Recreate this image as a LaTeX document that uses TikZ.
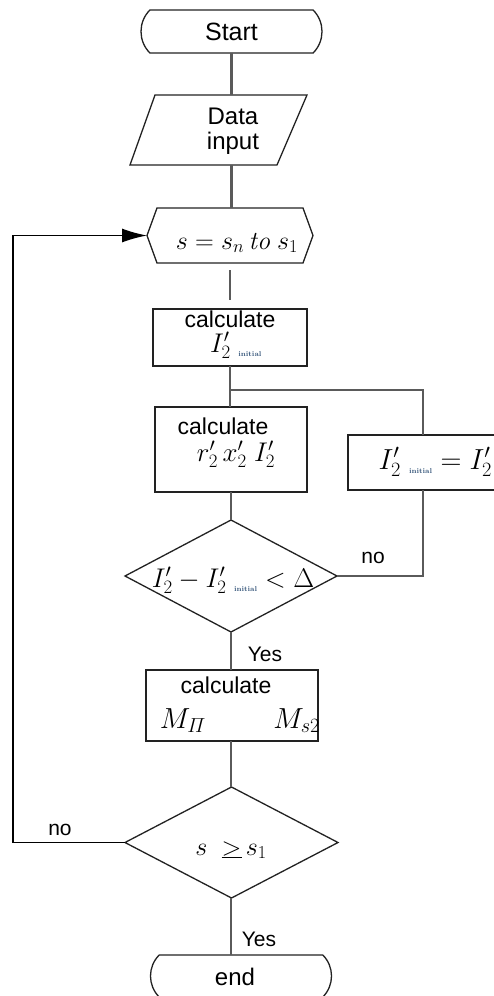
\RequirePackage{fix-cm}
\documentclass[tikz,border=0pt]{standalone}
\usepackage{fontspec}
\setsansfont{Liberation Sans}
\usetikzlibrary{arrows.meta,shapes.misc,shapes.geometric}
\definecolor{conn}{HTML}{5A5A5A}
\definecolor{edge}{HTML}{222222}
\definecolor{subc}{HTML}{35557A}
\newcommand{\ini}{\mbox{\color{subc}\fontsize{7}{7}\selectfont\bfseries initial}}
\newcommand{\fs}[1]{\fontsize{#1}{#1}\selectfont}
\begin{document}
\begin{tikzpicture}[x=1pt,y=-1pt,
  every node/.style={inner sep=0pt, outer sep=0pt},
  term/.style={draw=edge, line width=1.3pt, rounded rectangle, rounded rectangle arc length=90},
  pbox/.style={draw=edge, line width=1.8pt, rectangle},
  shp/.style={draw=edge, line width=1.3pt},
  ghost/.style={rectangle, draw=none},
  conn/.style={draw=conn, line width=2.6pt},
  thinconn/.style={draw=conn, line width=1.6pt},
  loopline/.style={draw=black, line width=1.4pt},
  lbl/.style={font=\sffamily\fs{21}},
  sflbl/.style={font=\sffamily\fs{23}, anchor=base}
]
\useasboundingbox[fill=white] (0,0) rectangle (493,996);

% Start
\node[term, minimum width=181, minimum height=43, font=\sffamily\fs{25}] (start) at (231.5,31.5) {Start};

% Data input (parallelogram)
\node[ghost, minimum width=177, minimum height=70] (datashape) at (218.5,130) {};
\draw[shp] (datashape.south west) -- ([xshift=25pt]datashape.north west) -- (datashape.north east) -- ([xshift=-30pt]datashape.south east) -- cycle;
\node[font=\sffamily\fs{24}, align=center] (data) at (233,131) {Data\\[1pt]input};

% Hexagon loop
\node[ghost, minimum width=166, minimum height=55] (hex) at (230,235.5) {};
\draw[shp] (hex.west) -- ([xshift=10pt]hex.north west) -- ([xshift=-10pt]hex.north east) -- (hex.east) -- ([xshift=-10pt]hex.south east) -- ([xshift=10pt]hex.south west) -- cycle;
\node[font=\fs{26}, anchor=base] (hext) at (237,249) {$s = s_{n}\,\mathit{to}\; s_{1}$};

% calculate I'2 initial
\node[pbox, minimum width=154, minimum height=57] (calc1) at (230,337.5) {};
\node[sflbl] (calc1a) at (230,327) {calculate};
\node[font=\fs{27}, anchor=base] (calc1b) at (236,352) {$I'_{2}\;{}_{\ini}$};

% calculate r' x' I'
\node[pbox, minimum width=152, minimum height=85] (calc2) at (231,449.5) {};
\node[sflbl] (calc2a) at (223,434) {calculate};
\node[font=\fs{27}, anchor=base] (calc2b) at (236,461) {$r'_{2}\,x'_{2}\;I'_{2}$};

% I'2 initial = I'2
\node[pbox, minimum width=150, minimum height=55] (b3) at (423,462.5) {};
\node[font=\fs{29}, anchor=base east] (b3t) at (492,469) {$I'_{2}\;{}_{\ini} = I'_{2}$};

% Diamond 1
\node[ghost, minimum width=212, minimum height=112] (d1) at (231,576) {};
\draw[shp] (d1.west) -- (d1.north) -- (d1.east) -- (d1.south) -- cycle;
\node[font=\fs{27}, anchor=base] (d1t) at (233,587) {$I'_{2} - I'_{2}\;{}_{\ini} < \Delta$};

% calculate M
\node[pbox, minimum width=172, minimum height=71] (calc3) at (232,705.5) {};
\node[sflbl] (calc3a) at (226,693) {calculate};
\node[font=\fs{29}, anchor=base] (calc3b) at (183,728) {$M_{\mathnormal{\Pi}}$};
\node[font=\fs{29}, anchor=base east] (calc3c) at (320,728) {$M_{s2}$};

% Diamond 2
\node[ghost, minimum width=213, minimum height=111] (d2) at (231.5,842.5) {};
\draw[shp] (d2.west) -- (d2.north) -- (d2.east) -- (d2.south) -- cycle;
\node[font=\fs{26}, anchor=base] (d2t) at (231,855) {$s\;\;\underline{>}\,s_{1}$};

% End
\node[term, minimum width=181, minimum height=42] (end) at (241,976) {};
\node[font=\sffamily\fs{24}] (endt) at (235,977) {end};

% connectors
\draw[conn] (start.south) -- (start.south |- datashape.north);
\draw[conn] (start.south |- datashape.south) -- (start.south |- hex.north);
\draw[conn, shorten <=7pt, shorten >=9pt] (hex.south) -- (hex.south |- calc1.north);
\draw[conn] (calc1.south) -- (calc1.south |- calc2.north);
\coordinate (br) at (231,390);
\draw[thinconn] (br) -| (b3.north);
\draw[thinconn] (b3.south) |- (d1.east);
\node[lbl] (no1) at (373,558) {no};
\draw[conn] (calc2.south) -- (calc2.south |- d1.north);
\draw[conn] (d1.south) -- (d1.south |- calc3.north);
\node[lbl] (yes1) at (265,654) {Yes};
\draw[conn] (d1.south |- calc3.south) -- (d1.south |- d2.north);
\draw[conn] (d1.south |- d2.south) -- (d1.south |- end.north);
\node[lbl] (yes2) at (259,939) {Yes};
\coordinate (lp) at (13,842.5);
\draw[loopline, -{Latex[length=25pt,width=14pt]}] (d2.west) -- (lp) |- (hex.west);
\node[lbl] (no2) at (60,830) {no};
\end{tikzpicture}
\end{document}
